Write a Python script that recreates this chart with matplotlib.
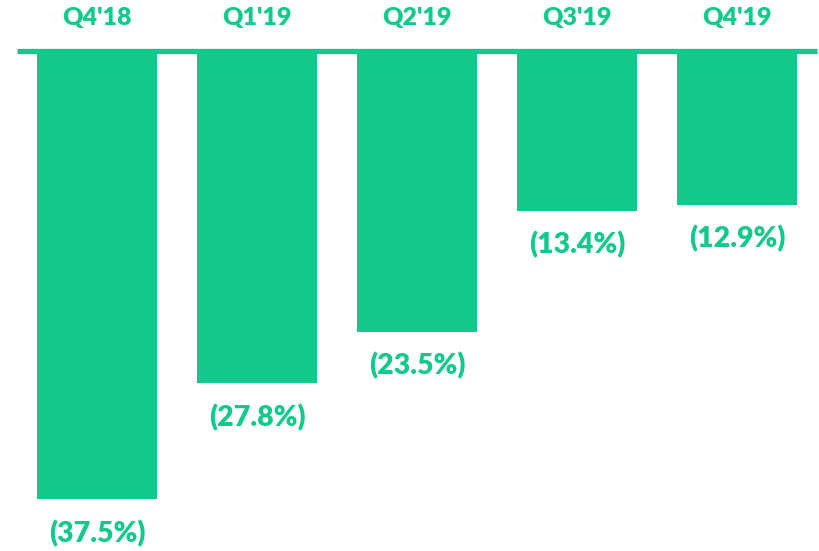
import matplotlib
matplotlib.use('Agg')
import matplotlib.pyplot as plt

# 데이터
quarters = ["Q4'18", "Q1'19", "Q2'19", "Q3'19", "Q4'19"]
changes = [-37.5, -27.8, -23.5, -13.4, -12.9]

green = '#10C98B'

fig = plt.figure(figsize=(8.19, 5.51), dpi=100)
ax = fig.add_axes([0, 0, 1, 1])
ax.set_xlim(-0.606, 4.5125)
ax.set_ylim(-41.81, 4.22)
ax.axis('off')

x = list(range(len(quarters)))
ax.bar(x, changes, width=0.75, color=green)
ax.plot([-0.5, 4.5], [0, 0], color=green, lw=3.8, solid_capstyle='butt')

for xi, q, v in zip(x, quarters, changes):
    ax.text(xi, 2.71, q, ha='center', va='center', color=green,
            fontsize=18, fontweight='heavy', family='Lato')
    ax.annotate(f"({abs(v):.1f}%)", (xi, v), xytext=(0, -24.5), textcoords='offset points',
                ha='center', va='center', color=green,
                fontsize=20.5, fontweight='heavy', family='Lato')

fig.savefig('out.png', dpi=100)
